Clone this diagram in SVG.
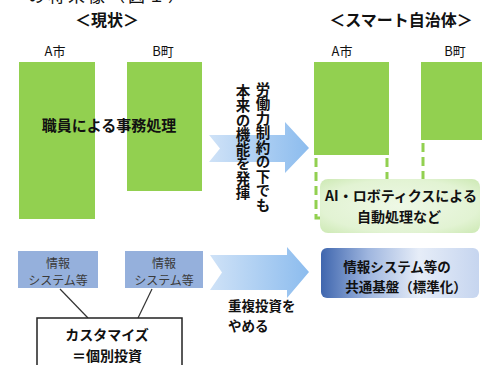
<svg xmlns="http://www.w3.org/2000/svg" width="482" height="365" viewBox="0 0 482 365">
<defs>
<linearGradient id="arrowG" x1="0" y1="0" x2="1" y2="0">
<stop offset="0" stop-color="#cfe2f7"/>
<stop offset="1" stop-color="#8cbcee"/>
</linearGradient>
<radialGradient id="aiG" cx="0.5" cy="0.5" r="0.7">
<stop offset="0" stop-color="#eef8e6"/>
<stop offset="0.7" stop-color="#e2f3d3"/>
<stop offset="1" stop-color="#cde9b4"/>
</radialGradient>
<linearGradient id="baseG" x1="0" y1="0" x2="1" y2="0">
<stop offset="0" stop-color="#3f66ae"/>
<stop offset="0.3" stop-color="#9fb6df"/>
<stop offset="0.62" stop-color="#e6edf8"/>
<stop offset="1" stop-color="#c6d5ef"/>
</linearGradient>
<style>
.t{font-family:"Noto Sans CJK JP","Noto Sans",sans-serif;fill:#111}
.b{font-weight:bold}
.c{text-anchor:middle}
.s{fill:#3a3a3a;font-size:12px}
.green{fill:#92d050}
.dash{fill:none;stroke:#92d050;stroke-width:3;stroke-dasharray:9 5}
.sys{fill:#95b0dc}
.arrow{fill:url(#arrowG)}
.link{stroke:#333;stroke-width:1.2;fill:none}
</style>
</defs>

<text class="t" x="28" y="2" font-size="17" letter-spacing="3">の将来像（図１）</text>
<text class="t b c" x="107" y="26" font-size="16">＜現状＞</text>
<text class="t b c" x="401" y="26" font-size="16">＜スマート自治体＞</text>

<g id="current-A">
<text class="t c" x="55" y="56" font-size="13">A市</text>
<rect class="green" x="19" y="62" width="76" height="157"/>
</g>
<g id="current-B">
<text class="t c" x="163" y="56" font-size="13">B町</text>
<rect class="green" x="127" y="62" width="75" height="129"/>
</g>
<text class="t b c" x="109" y="131" font-size="15">職員による事務処理</text>

<g id="smart-A">
<text class="t c" x="342" y="56" font-size="13">A市</text>
<rect class="green" x="314" y="62" width="75" height="93"/>
</g>
<g id="smart-B">
<text class="t c" x="455" y="56" font-size="13">B町</text>
<rect class="green" x="421" y="62" width="70" height="78"/>
</g>

<g id="connectors">
<path class="dash" d="M316,158 V218 H326"/>
<path class="dash" d="M387,158 V182"/>
<path class="dash" d="M423,143 V182"/>
<path class="arrow" d="M209,135 H285 V122 L309,148 L285,173 V162 H209 L220,148.5 Z"/>
<path class="arrow" d="M210,255 H287 V247 L309,272 L287,298 V290 H210 L222,272.5 Z"/>
<line class="link" x1="60" y1="289" x2="88" y2="318"/>
<line class="link" x1="152" y1="289" x2="138" y2="318" stroke-width="0.8"/>
</g>

<g id="labor-note">
<text class="t b" x="263" y="82" font-size="14.5" writing-mode="vertical-rl">労働力制約の下でも</text>
<text class="t b" x="243" y="84" font-size="14.5" writing-mode="vertical-rl">本来の機能を発揮</text>
</g>

<g id="ai-box">
<rect x="320" y="179" width="160" height="54" rx="8" fill="url(#aiG)"/>
<text class="t b c" font-size="14"><tspan x="401" y="201">AI・ロボティクスによる</tspan><tspan x="399" y="222">自動処理など</tspan></text>
</g>

<g id="sys-A">
<rect class="sys" x="18" y="251" width="80" height="37"/>
<text class="t c s"><tspan x="58" y="267.5">情報</tspan><tspan x="58" y="285">システム等</tspan></text>
</g>
<g id="sys-B">
<rect class="sys" x="125" y="251" width="78" height="37"/>
<text class="t c s"><tspan x="164" y="267.5">情報</tspan><tspan x="164" y="285">システム等</tspan></text>
</g>

<g id="custom-box">
<rect x="37" y="318" width="145" height="60" fill="#fff" stroke="#222" stroke-width="1.5"/>
<text class="t b c" font-size="14"><tspan x="107" y="340">カスタマイズ</tspan><tspan x="107" y="360.5">＝個別投資</tspan></text>
</g>

<g id="dup-note">
<text class="t b" font-size="13.5"><tspan x="228" y="311">重複投資を</tspan><tspan x="228" y="331">やめる</tspan></text>
</g>

<g id="common-base">
<rect x="321" y="248" width="158" height="50" rx="6" fill="url(#baseG)"/>
<text class="t b c" font-size="13.5"><tspan x="397" y="272">情報システム等の</tspan><tspan x="406" y="292">共通基盤（標準化）</tspan></text>
</g>
</svg>
